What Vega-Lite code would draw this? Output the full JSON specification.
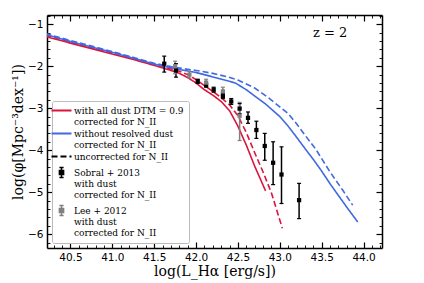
{
  "$schema": "https://vega.github.io/schema/vega-lite/v6.json",
  "width": 335,
  "height": 233,
  "autosize": "none",
  "padding": {"left": 47, "top": 15, "right": 42, "bottom": 35},
  "background": "white",
  "config": {
    "view": {"stroke": null},
    "axis": {
      "domainColor": "black",
      "domainWidth": 1.5,
      "tickColor": "black",
      "grid": false,
      "labelFont": "DejaVu Sans",
      "labelFontSize": 10.5,
      "labelColor": "black",
      "labelOverlap": false,
      "titleFont": "DejaVu Serif",
      "titleFontSize": 14,
      "titleFontWeight": "normal",
      "titleColor": "black"
    },
    "legend": {
      "labelFont": "DejaVu Serif",
      "labelFontSize": 9,
      "labelColor": "black",
      "labelLimit": 0
    }
  },
  "datasets": {
    "curves": [
      {"x": 40.2, "y": -1.29, "g": "c1", "dash": "s"},
      {"x": 40.5, "y": -1.45, "g": "c1", "dash": "s"},
      {"x": 40.85, "y": -1.63, "g": "c1", "dash": "s"},
      {"x": 41.0, "y": -1.71, "g": "c1", "dash": "s"},
      {"x": 41.25, "y": -1.84, "g": "c1", "dash": "s"},
      {"x": 41.5, "y": -1.98, "g": "c1", "dash": "s"},
      {"x": 41.7, "y": -2.1, "g": "c1", "dash": "s"},
      {"x": 41.8, "y": -2.17, "g": "c1", "dash": "s"},
      {"x": 41.9, "y": -2.27, "g": "c1", "dash": "s"},
      {"x": 42.0, "y": -2.4, "g": "c1", "dash": "s"},
      {"x": 42.1, "y": -2.56, "g": "c1", "dash": "s"},
      {"x": 42.2, "y": -2.69, "g": "c1", "dash": "s"},
      {"x": 42.3, "y": -2.84, "g": "c1", "dash": "s"},
      {"x": 42.4, "y": -3.06, "g": "c1", "dash": "s"},
      {"x": 42.5, "y": -3.43, "g": "c1", "dash": "s"},
      {"x": 42.6, "y": -3.88, "g": "c1", "dash": "s"},
      {"x": 42.7, "y": -4.38, "g": "c1", "dash": "s"},
      {"x": 42.83, "y": -4.97, "g": "c1", "dash": "s"},
      {"x": 40.2, "y": -1.26, "g": "c1", "dash": "d"},
      {"x": 40.5, "y": -1.42, "g": "c1", "dash": "d"},
      {"x": 41.0, "y": -1.68, "g": "c1", "dash": "d"},
      {"x": 41.5, "y": -1.95, "g": "c1", "dash": "d"},
      {"x": 41.8, "y": -2.12, "g": "c1", "dash": "d"},
      {"x": 41.9, "y": -2.2, "g": "c1", "dash": "d"},
      {"x": 42.0, "y": -2.32, "g": "c1", "dash": "d"},
      {"x": 42.1, "y": -2.46, "g": "c1", "dash": "d"},
      {"x": 42.2, "y": -2.6, "g": "c1", "dash": "d"},
      {"x": 42.3, "y": -2.75, "g": "c1", "dash": "d"},
      {"x": 42.4, "y": -2.92, "g": "c1", "dash": "d"},
      {"x": 42.5, "y": -3.18, "g": "c1", "dash": "d"},
      {"x": 42.6, "y": -3.58, "g": "c1", "dash": "d"},
      {"x": 42.7, "y": -4.06, "g": "c1", "dash": "d"},
      {"x": 42.8, "y": -4.52, "g": "c1", "dash": "d"},
      {"x": 42.9, "y": -5.02, "g": "c1", "dash": "d"},
      {"x": 43.03, "y": -5.86, "g": "c1", "dash": "d"},
      {"x": 40.2, "y": -1.24, "g": "c2", "dash": "s"},
      {"x": 40.5, "y": -1.41, "g": "c2", "dash": "s"},
      {"x": 40.85, "y": -1.59, "g": "c2", "dash": "s"},
      {"x": 41.0, "y": -1.67, "g": "c2", "dash": "s"},
      {"x": 41.25, "y": -1.81, "g": "c2", "dash": "s"},
      {"x": 41.5, "y": -1.95, "g": "c2", "dash": "s"},
      {"x": 41.75, "y": -2.06, "g": "c2", "dash": "s"},
      {"x": 42.0, "y": -2.15, "g": "c2", "dash": "s"},
      {"x": 42.25, "y": -2.28, "g": "c2", "dash": "s"},
      {"x": 42.47, "y": -2.4, "g": "c2", "dash": "s"},
      {"x": 42.6, "y": -2.56, "g": "c2", "dash": "s"},
      {"x": 42.7, "y": -2.71, "g": "c2", "dash": "s"},
      {"x": 42.83, "y": -2.9, "g": "c2", "dash": "s"},
      {"x": 43.0, "y": -3.2, "g": "c2", "dash": "s"},
      {"x": 43.1, "y": -3.43, "g": "c2", "dash": "s"},
      {"x": 43.2, "y": -3.69, "g": "c2", "dash": "s"},
      {"x": 43.3, "y": -3.96, "g": "c2", "dash": "s"},
      {"x": 43.4, "y": -4.22, "g": "c2", "dash": "s"},
      {"x": 43.5, "y": -4.5, "g": "c2", "dash": "s"},
      {"x": 43.6, "y": -4.8, "g": "c2", "dash": "s"},
      {"x": 43.7, "y": -5.08, "g": "c2", "dash": "s"},
      {"x": 43.8, "y": -5.36, "g": "c2", "dash": "s"},
      {"x": 43.93, "y": -5.71, "g": "c2", "dash": "s"},
      {"x": 40.2, "y": -1.22, "g": "c2", "dash": "d"},
      {"x": 40.5, "y": -1.39, "g": "c2", "dash": "d"},
      {"x": 41.0, "y": -1.65, "g": "c2", "dash": "d"},
      {"x": 41.5, "y": -1.93, "g": "c2", "dash": "d"},
      {"x": 41.75, "y": -2.03, "g": "c2", "dash": "d"},
      {"x": 42.0, "y": -2.1, "g": "c2", "dash": "d"},
      {"x": 42.2, "y": -2.17, "g": "c2", "dash": "d"},
      {"x": 42.37, "y": -2.25, "g": "c2", "dash": "d"},
      {"x": 42.5, "y": -2.33, "g": "c2", "dash": "d"},
      {"x": 42.7, "y": -2.52, "g": "c2", "dash": "d"},
      {"x": 42.87, "y": -2.76, "g": "c2", "dash": "d"},
      {"x": 43.0, "y": -2.97, "g": "c2", "dash": "d"},
      {"x": 43.1, "y": -3.13, "g": "c2", "dash": "d"},
      {"x": 43.2, "y": -3.37, "g": "c2", "dash": "d"},
      {"x": 43.3, "y": -3.64, "g": "c2", "dash": "d"},
      {"x": 43.43, "y": -3.98, "g": "c2", "dash": "d"},
      {"x": 43.6, "y": -4.52, "g": "c2", "dash": "d"},
      {"x": 43.75, "y": -4.95, "g": "c2", "dash": "d"},
      {"x": 43.87, "y": -5.31, "g": "c2", "dash": "d"}
    ],
    "pts": [
      {"x": 41.62, "y": -1.94, "lo": -2.14, "hi": -1.76, "g": "c4"},
      {"x": 41.76, "y": -2.10, "lo": -2.26, "hi": -1.94, "g": "c4"},
      {"x": 42.02, "y": -2.36, "lo": -2.41, "hi": -2.31, "g": "c4"},
      {"x": 42.12, "y": -2.45, "lo": -2.50, "hi": -2.40, "g": "c4"},
      {"x": 42.21, "y": -2.56, "lo": -2.62, "hi": -2.50, "g": "c4"},
      {"x": 42.32, "y": -2.71, "lo": -2.77, "hi": -2.65, "g": "c4"},
      {"x": 42.42, "y": -2.84, "lo": -2.91, "hi": -2.77, "g": "c4"},
      {"x": 42.52, "y": -3.01, "lo": -3.13, "hi": -2.89, "g": "c4"},
      {"x": 42.62, "y": -3.23, "lo": -3.36, "hi": -3.09, "g": "c4"},
      {"x": 42.72, "y": -3.52, "lo": -3.72, "hi": -3.31, "g": "c4"},
      {"x": 42.82, "y": -3.90, "lo": -4.24, "hi": -3.60, "g": "c4"},
      {"x": 42.92, "y": -4.30, "lo": -4.82, "hi": -3.80, "g": "c4"},
      {"x": 43.02, "y": -4.58, "lo": -5.27, "hi": -3.92, "g": "c4"},
      {"x": 43.23, "y": -5.19, "lo": -5.63, "hi": -4.79, "g": "c4"},
      {"x": 41.75, "y": -2.00, "lo": -2.18, "hi": -1.88, "g": "c5"},
      {"x": 41.92, "y": -2.20, "lo": -2.28, "hi": -2.12, "g": "c5"},
      {"x": 42.12, "y": -2.39, "lo": -2.47, "hi": -2.31, "g": "c5"},
      {"x": 42.32, "y": -2.60, "lo": -2.70, "hi": -2.50, "g": "c5"},
      {"x": 42.52, "y": -3.18, "lo": -3.77, "hi": -2.86, "g": "c5"}
    ],
    "ann": [{"t": "z = 2"}]
  },
  "layer": [
    {
      "layer": [
        {
          "data": {"name": "curves"},
          "mark": {"type": "line", "strokeWidth": 1.6, "clip": true},
          "encoding": {
            "x": {
              "field": "x", "type": "quantitative",
              "scale": {"domain": [40.22, 44.22], "nice": false, "zero": false},
              "axis": {
                "orient": "bottom",
                "title": "log(L_Hα [erg/s])",
                "titlePadding": 2,
                "values": [40.5, 41.0, 41.5, 42.0, 42.5, 43.0, 43.5, 44.0],
                "format": ".1f",
                "tickSize": -6,
                "tickWidth": 1.2,
                "labelPadding": 10,
                "labelFlush": false
              }
            },
            "y": {
              "field": "y", "type": "quantitative",
              "scale": {"domain": [-6.33, -0.78], "nice": false, "zero": false},
              "axis": {
                "orient": "left",
                "title": "log(φ[Mpc⁻³dex⁻¹])",
                "titlePadding": 2,
                "values": [-6, -5, -4, -3, -2, -1],
                "format": "d",
                "tickSize": -6,
                "tickWidth": 1.2,
                "labelPadding": 10,
                "labelFlush": false
              }
            },
            "color": {
              "field": "g", "type": "nominal",
              "scale": {"domain": ["c1","c2","c3","c4","c5"], "range": ["crimson","royalblue","black","black","grey"]},
              "legend": {
                "orient": "bottom-left",
                "offset": 5,
                "title": null,
                "padding": 5,
                "strokeColor": "#bbbbbb",
                "fillColor": "white",
                "cornerRadius": 2,
                "rowPadding": 2,
                "labelOffset": 8,
                "symbolSize": 400,
                "labelExpr": "datum.value=='c1' ? ['with all dust DTM = 0.9','corrected for N_II'] : datum.value=='c2' ? ['without resolved dust','corrected for N_II'] : datum.value=='c3' ? 'uncorrected for N_II' : datum.value=='c4' ? ['Sobral + 2013','with dust','corrected for N_II'] : ['Lee + 2012','with dust','corrected for N_II']",
                "encode": {
                  "labels": {"update": {"lineHeight": {"value": 11}}},
                  "symbols": {"update": {
                    "shape": {"signal": "datum.value=='c1' || datum.value=='c2' || datum.value=='c3' ? 'M-1,0H1' : 'M-0.35,-0.35H0.35V0.35H-0.35Z M0,-0.85V0.85 M-0.35,-0.85H0.35 M-0.35,0.85H0.35'"},
                    "size": {"signal": "datum.value=='c1' || datum.value=='c2' || datum.value=='c3' ? 400 : 144"},
                    "fill": {"signal": "datum.value=='c1' || datum.value=='c2' || datum.value=='c3' ? 'transparent' : scale('color', datum.value)"},
                    "stroke": {"signal": "scale('color', datum.value)"},
                    "strokeDash": {"signal": "datum.value=='c3' ? [6,3] : [1,0]"},
                    "strokeWidth": {"signal": "datum.value=='c1' || datum.value=='c2' || datum.value=='c3' ? 2 : 1.5"},
                    "opacity": {"value": 1}
                  }}
                }
              }
            },
            "strokeDash": {
              "field": "dash", "type": "nominal",
              "scale": {"domain": ["s","d"], "range": [[1,0],[6,3]]},
              "legend": null
            }
          }
        },
        {
          "data": {"name": "pts"},
          "mark": {"type": "rule", "strokeWidth": 1.5},
          "encoding": {
            "x": {"field": "x", "type": "quantitative"},
            "y": {"field": "lo", "type": "quantitative"},
            "y2": {"field": "hi"},
            "color": {"field": "g", "type": "nominal"}
          }
        },
        {
          "data": {"name": "pts"},
          "mark": {"type": "tick", "orient": "horizontal", "size": 4, "thickness": 1.2, "opacity": 1},
          "encoding": {
            "x": {"field": "x", "type": "quantitative"},
            "y": {"field": "lo", "type": "quantitative"},
            "color": {"field": "g", "type": "nominal"}
          }
        },
        {
          "data": {"name": "pts"},
          "mark": {"type": "tick", "orient": "horizontal", "size": 4, "thickness": 1.2, "opacity": 1},
          "encoding": {
            "x": {"field": "x", "type": "quantitative"},
            "y": {"field": "hi", "type": "quantitative"},
            "color": {"field": "g", "type": "nominal"}
          }
        },
        {
          "data": {"name": "pts"},
          "mark": {"type": "point", "shape": "square", "filled": true, "size": 18, "opacity": 1},
          "encoding": {
            "x": {"field": "x", "type": "quantitative"},
            "y": {"field": "y", "type": "quantitative"},
            "color": {"field": "g", "type": "nominal"}
          }
        },
        {
          "data": {"name": "ann"},
          "mark": {"type": "text", "font": "DejaVu Serif", "fontSize": 13, "align": "center", "baseline": "middle", "color": "black"},
          "encoding": {
            "x": {"datum": 43.6},
            "y": {"datum": -1.21},
            "text": {"field": "t"}
          }
        }
      ]
    },
    {
      "data": {"name": "curves"},
      "mark": {"type": "point", "opacity": 0},
      "encoding": {
        "x": {
          "field": "x", "type": "quantitative",
          "axis": {
            "orient": "bottom", "title": null, "labels": false, "domain": false,
            "values": [40.3,40.4,40.6,40.7,40.8,40.9,41.1,41.2,41.3,41.4,41.6,41.7,41.8,41.9,42.1,42.2,42.3,42.4,42.6,42.7,42.8,42.9,43.1,43.2,43.3,43.4,43.6,43.7,43.8,43.9,44.1,44.2],
            "tickSize": -3, "tickWidth": 0.9
          }
        },
        "y": {
          "field": "y", "type": "quantitative",
          "axis": {
            "orient": "left", "title": null, "labels": false, "domain": false,
            "values": [-6.2,-5.8,-5.6,-5.4,-5.2,-4.8,-4.6,-4.4,-4.2,-3.8,-3.6,-3.4,-3.2,-2.8,-2.6,-2.4,-2.2,-1.8,-1.6,-1.4,-1.2,-0.8],
            "tickSize": -3, "tickWidth": 0.9
          }
        }
      }
    },
    {
      "data": {"name": "curves"},
      "mark": {"type": "point", "opacity": 0},
      "encoding": {
        "x": {
          "field": "x", "type": "quantitative",
          "axis": {
            "orient": "top", "title": null, "labels": false,
            "values": [40.5, 41.0, 41.5, 42.0, 42.5, 43.0, 43.5, 44.0],
            "tickSize": -6, "tickWidth": 1.2
          }
        },
        "y": {
          "field": "y", "type": "quantitative",
          "axis": {
            "orient": "right", "title": null, "labels": false,
            "values": [-6, -5, -4, -3, -2, -1],
            "tickSize": -6, "tickWidth": 1.2
          }
        }
      }
    },
    {
      "data": {"name": "curves"},
      "mark": {"type": "point", "opacity": 0},
      "encoding": {
        "x": {
          "field": "x", "type": "quantitative",
          "axis": {
            "orient": "top", "title": null, "labels": false, "domain": false,
            "values": [40.3,40.4,40.6,40.7,40.8,40.9,41.1,41.2,41.3,41.4,41.6,41.7,41.8,41.9,42.1,42.2,42.3,42.4,42.6,42.7,42.8,42.9,43.1,43.2,43.3,43.4,43.6,43.7,43.8,43.9,44.1,44.2],
            "tickSize": -3, "tickWidth": 0.9
          }
        },
        "y": {
          "field": "y", "type": "quantitative",
          "axis": {
            "orient": "right", "title": null, "labels": false, "domain": false,
            "values": [-6.2,-5.8,-5.6,-5.4,-5.2,-4.8,-4.6,-4.4,-4.2,-3.8,-3.6,-3.4,-3.2,-2.8,-2.6,-2.4,-2.2,-1.8,-1.6,-1.4,-1.2,-0.8],
            "tickSize": -3, "tickWidth": 0.9
          }
        }
      }
    }
  ],
  "resolve": {"axis": {"x": "independent", "y": "independent"}}
}
